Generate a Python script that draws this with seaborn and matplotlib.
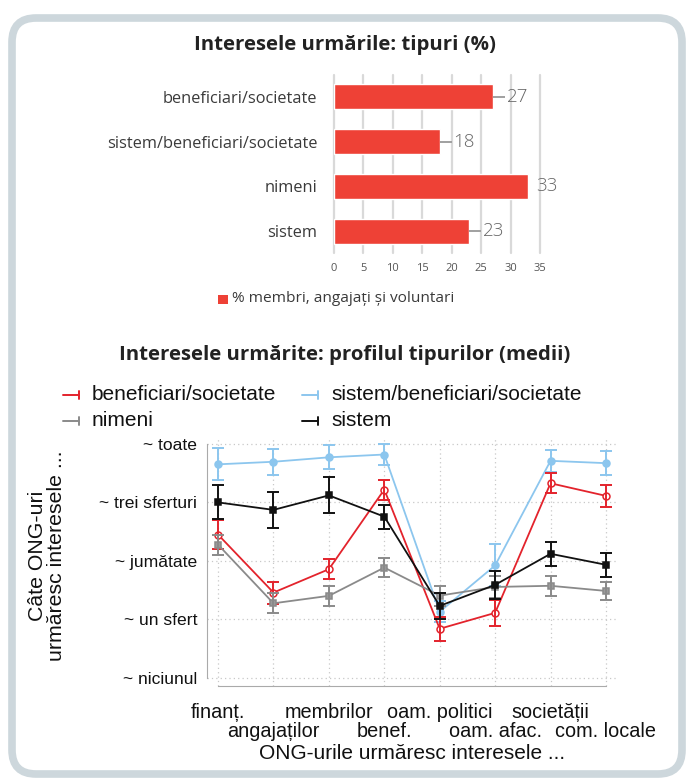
import numpy as np
import pandas as pd
import matplotlib
matplotlib.use("Agg")
import matplotlib.pyplot as plt
from matplotlib.patches import FancyBboxPatch, Rectangle
from matplotlib.lines import Line2D
import seaborn as sns

# ---------------- data ----------------
bar_categories = ["beneficiari/societate", "sistem/beneficiari/societate", "nimeni", "sistem"]
bar_values = [27, 18, 33, 23]
bar_ticks = [0, 5, 10, 15, 20, 25, 30, 35]
bar_legend = "% membri, angajați și voluntari"

x_labels = ["finanț.", "angajaților", "membrilor", "benef.", "oam. politici",
            "oam. afac.", "societății", "com. locale"]
y_tick_values = [0, 0.25, 0.5, 0.75, 1.0]
y_tick_labels = ["~ niciunul", "~ un sfert", "~ jumătate", "~ trei sferturi", "~ toate"]

series_names = ["beneficiari/societate", "sistem/beneficiari/societate", "nimeni", "sistem"]
ben_soc = [0.612, 0.364, 0.464, 0.805, 0.209, 0.277, 0.832, 0.778]
ben_soc_err = [0.062, 0.047, 0.043, 0.043, 0.052, 0.054, 0.043, 0.047]
sis_ben_soc = [0.913, 0.924, 0.943, 0.955, 0.282, 0.480, 0.928, 0.918]
sis_ben_soc_err = [0.069, 0.056, 0.052, 0.047, 0.045, 0.090, 0.047, 0.052]
nimeni = [0.569, 0.318, 0.350, 0.471, 0.351, 0.388, 0.393, 0.371]
nimeni_err = [0.043, 0.043, 0.043, 0.039, 0.043, 0.047, 0.043, 0.039]
sistem = [0.750, 0.718, 0.780, 0.689, 0.307, 0.397, 0.530, 0.483]
sistem_err = [0.073, 0.077, 0.077, 0.052, 0.057, 0.060, 0.052, 0.052]

# ---------------- figure ----------------
W, H = 687, 780
fig = plt.figure(figsize=(W / 100, H / 100), dpi=100)
fig.patch.set_facecolor("white")

def fx(px):
    return px / W

def fy(py):
    return 1 - py / H

# rounded frame
frame = FancyBboxPatch((fx(12), fy(774)), fx(670), (774 - 18) / H,
                       boxstyle="round,pad=0,rounding_size=0.035",
                       transform=fig.transFigure, facecolor="none",
                       edgecolor="#cdd7dc", linewidth=5.5, zorder=-1,
                       mutation_aspect=W / H)
fig.patches.append(frame)

sns.set_style("white")
title_font = ["Open Sans", "DejaVu Sans"]
cat_font = ["Open Sans", "DejaVu Sans"]
plot_font = ["Liberation Sans", "DejaVu Sans"]

# ---------------- top bar chart ----------------
ax1 = fig.add_axes([fx(334), fy(253.4), fx(540 - 334), (253.4 - 74.6) / H])
ax1.patch.set_alpha(0)
df_bar = pd.DataFrame({"cat": bar_categories, "val": bar_values})
sns.barplot(data=df_bar, x="val", y="cat", orient="h", color="#ee4136",
            width=0.56, saturation=1, ax=ax1, zorder=3)
ax1.set_xlim(0, 35)
ax1.set_ylim(3.5, -0.5)
ax1.set_xticks(bar_ticks)
ax1.set_xticklabels([str(t) for t in bar_ticks], fontsize=8, color="#555555",
                    family=cat_font)
ax1.tick_params(axis="x", length=0, pad=7)
ax1.tick_params(axis="y", length=0, pad=12)
for lbl in ax1.get_yticklabels():
    lbl.set_fontsize(11.8)
    lbl.set_color("#3a3a3a")
    lbl.set_family(cat_font)
ax1.set_xlabel("")
ax1.set_ylabel("")
for s in ax1.spines.values():
    s.set_visible(False)
for t in bar_ticks:
    ax1.axvline(t, color="#d9d9d9", lw=1.6, zorder=1, clip_on=False)
for i, v in enumerate(bar_values):
    if v < 33:
        ax1.plot([v, v + 2.0], [i, i], color="#a0a0a0", lw=1.4, zorder=4,
                 solid_capstyle="butt")
        ax1.text(v + 2.3, i, str(v), va="center", ha="left", fontsize=13.5,
                 color="#666666", family=cat_font, fontweight="light")
    else:
        ax1.text(v + 1.3, i, str(v), va="center", ha="left", fontsize=13.5,
                 color="#666666", family=cat_font, fontweight="light")

fig.add_artist(Rectangle((fx(217.5), fy(304.5)), fx(10), 10 / H,
                         transform=fig.transFigure, facecolor="#ee4136",
                         edgecolor="none"))
fig.text(fx(232), fy(299), bar_legend, fontsize=11.1, color="#3a3a3a",
         family=cat_font, va="center", ha="left")

fig.text(fx(345), fy(45), "Interesele urmările: tipuri (%)", fontsize=14.7,
         fontweight="bold", family=title_font, color="#222222",
         ha="center", va="center")
fig.text(fx(345), fy(355), "Interesele urmărite: profilul tipurilor (medii)",
         fontsize=14.7, fontweight="bold", family=title_font, color="#222222",
         ha="center", va="center")

# ---------------- line chart ----------------
ax2 = fig.add_axes([fx(207), fy(686), fx(410), (686 - 437) / H])
ax2.patch.set_alpha(0)
xpos = list(range(len(x_labels)))
styles = [
    (sis_ben_soc, sis_ben_soc_err, "#8cc6ee", "o", "#8cc6ee"),
    (ben_soc, ben_soc_err, "#e3232c", "o", "white"),
    (nimeni, nimeni_err, "#8a8a8a", "s", "#9a9a9a"),
    (sistem, sistem_err, "#111111", "s", "#111111"),
]
for vals, errs, col, mk, mfc in styles:
    d = pd.DataFrame({"x": xpos, "y": vals})
    sns.lineplot(data=d, x="x", y="y", color=col, marker=mk, markersize=5,
                 markerfacecolor=mfc, markeredgecolor=col, markeredgewidth=1.1,
                 linewidth=1.3, ax=ax2, zorder=3)
    ax2.errorbar(xpos, vals, yerr=errs, fmt="none", ecolor=col, elinewidth=1.4,
                 capsize=4, capthick=1.4, zorder=3)

ax2.set_xlim(-0.2, 7.2)
ax2.set_ylim(-0.036, 1.03)
even = xpos[0::2]
odd = xpos[1::2]
ax2.set_xticks(even)
ax2.set_xticklabels(x_labels[0::2], fontsize=14.3, family=plot_font, color="#111111")
ax2.set_xticks(odd, minor=True)
ax2.set_xticklabels(x_labels[1::2], minor=True, fontsize=14.3, family=plot_font,
                    color="#111111")
ax2.set_yticks(y_tick_values)
ax2.set_yticklabels(y_tick_labels, fontsize=12.6, family=plot_font, color="#111111")
ax2.tick_params(axis="both", which="both", direction="out", color="#aaaaaa",
                length=6, width=1)
ax2.tick_params(axis="x", which="major", pad=6)
ax2.tick_params(axis="x", which="minor", pad=20)
ax2.tick_params(axis="y", pad=1)
ax2.grid(True, which="both", axis="x", linestyle=(0, (1, 2.5)), color="#c8c8c8", lw=0.9)
ax2.grid(True, which="major", axis="y", linestyle=(0, (1, 2.5)), color="#c8c8c8", lw=0.9)
for s in ["top", "right"]:
    ax2.spines[s].set_visible(False)
ax2.spines["left"].set_bounds(0, 1)
ax2.spines["bottom"].set_bounds(0, 7)
ax2.spines["left"].set_color("#aaaaaa")
ax2.spines["bottom"].set_color("#aaaaaa")
ax2.set_xlabel("ONG-urile urmăresc interesele ...", fontsize=15,
               family=plot_font, color="#111111", labelpad=2)
ax2.set_ylabel("")
fig.text(fx(47), fy(556), "Câte ONG-uri\nurmăresc interesele ...", rotation=90,
         fontsize=15.3, family=plot_font, color="#111111", ha="center",
         va="center", linespacing=1.0)

# legend (manual)
leg_items = [
    (series_names[0], "#e3232c", 63, 395),
    (series_names[1], "#8cc6ee", 302, 395),
    (series_names[2], "#8a8a8a", 63, 421),
    (series_names[3], "#111111", 302, 421),
]
for name, col, x0, y0 in leg_items:
    fig.add_artist(Line2D([fx(x0), fx(x0 + 16)], [fy(y0), fy(y0)],
                          transform=fig.transFigure, color=col, lw=1.4))
    fig.add_artist(Line2D([fx(x0 + 16), fx(x0 + 16)], [fy(y0 - 4), fy(y0 + 4)],
                          transform=fig.transFigure, color=col, lw=1.4))
    fig.text(fx(x0 + 29), fy(y0), name, fontsize=15, family=plot_font,
             color="#111111", ha="left", va="center")

fig.savefig("out.png", dpi=100, facecolor="white")
